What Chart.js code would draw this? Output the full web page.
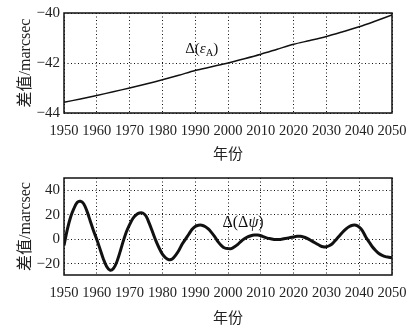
<!DOCTYPE html>
<html>
<head>
<meta charset="utf-8">
<script src="https://cdn.jsdelivr.net/npm/chart.js@4"></script>
<style>
body { margin: 0; background: #fff; width: 417px; height: 329px; overflow: hidden; }
canvas { position: absolute; left: 0; }
</style>
</head>
<body>
<canvas id="top-chart" width="417" height="165" style="top:0"></canvas>
<canvas id="bottom-chart" width="417" height="164" style="top:165px"></canvas>
<script>
// values
var xTicks = [1950, 1960, 1970, 1980, 1990, 2000, 2010, 2020, 2030, 2040, 2050]

var epsYears = [1950, 1955, 1960, 1965, 1970, 1975, 1980, 1985, 1990, 1995, 2000, 2005, 2010, 2015, 2020, 2025, 2030, 2035, 2040, 2045, 2050]
var epsValues = [-43.57, -43.44, -43.3, -43.15, -43.0, -42.84, -42.67, -42.49, -42.3, -42.15, -42.0, -41.83, -41.65, -41.45, -41.25, -41.1, -40.94, -40.75, -40.55, -40.32, -40.08]
var epsTicks = [-44, -42, -40]

var psiYears = [1950, 1951, 1952, 1953, 1954, 1955, 1956, 1957, 1958, 1959,
    1960, 1961, 1962, 1963, 1964, 1965, 1966, 1967, 1968, 1969,
    1970, 1971, 1972, 1973, 1974, 1975, 1976, 1977, 1978, 1979,
    1980, 1981, 1982, 1983, 1984, 1985, 1986, 1987, 1988, 1989,
    1990, 1991, 1992, 1993, 1994, 1995, 1996, 1997, 1998, 1999,
    2000, 2001, 2002, 2003, 2004, 2005, 2006, 2007, 2008, 2009,
    2010, 2011, 2012, 2013, 2014, 2015, 2016, 2017, 2018, 2019,
    2020, 2021, 2022, 2023, 2024, 2025, 2026, 2027, 2028, 2029,
    2030, 2031, 2032, 2033, 2034, 2035, 2036, 2037, 2038, 2039,
    2040, 2041, 2042, 2043, 2044, 2045, 2046, 2047, 2048, 2049, 2050]
var psiValues = [-5, 8, 18, 25, 30, 31, 29, 23, 15, 7,
    0, -8, -16, -22, -25, -24, -19, -11, -2, 6,
    12, 17, 20, 21.5, 21.5, 19, 13, 6, -1, -7,
    -12, -15, -16.5, -16, -13, -9, -4, 0, 4, 8,
    10.5, 11.5, 11.5, 10.5, 8.5, 5.5, 2, -2, -5, -7,
    -7.5, -7.5, -6, -4, -1.5, 0.5, 2, 3, 3.5, 3.5,
    3, 2, 1, 0.5, 0, 0, 0, 0.5, 1, 1.5,
    2, 2.5, 2.5, 2, 1, -0.5, -2, -3.5, -5, -6,
    -6, -5, -3, 0, 3, 6, 8.5, 10.5, 11.5, 11.5,
    10, 7, 2, -2, -6, -9, -11.5, -13, -14, -14.5, -15]
var psiTicks = [-20, 0, 20, 40]

var serif = "'Liberation Serif', 'DejaVu Serif', serif"
var titleFont = "'Liberation Serif', 'Noto Sans CJK SC', serif"

function points(xs, ys) {
    return xs.map((x, i) => ({ x: x, y: ys[i] }))
}

function minus(v) {
    return String(v).replace('-', '\u2212')
}

// box around the plot area and the curve label
var framePlugin = {
    id: 'frame',
    afterDatasetsDraw(chart, args, opts) {
        var a = chart.chartArea
        var c = chart.ctx
        c.save()
        c.strokeStyle = '#111'
        c.lineWidth = 1.5
        c.strokeRect(a.left, a.top, a.right - a.left, a.bottom - a.top)

        var x = chart.scales.x.getPixelForValue(opts.at[0])
        var y = chart.scales.y.getPixelForValue(opts.at[1])
        var size = opts.size
        var w = 0
        opts.parts.forEach(p => {
            c.font = (p.italic ? 'italic ' : '') + (p.sub ? size * 0.7 : size) + 'px ' + serif
            w += c.measureText(p.t).width
        })
        x -= w / 2
        c.fillStyle = '#111'
        c.textBaseline = 'middle'
        opts.parts.forEach(p => {
            c.font = (p.italic ? 'italic ' : '') + (p.sub ? size * 0.7 : size) + 'px ' + serif
            c.fillText(p.t, x, y + (p.sub ? size * 0.25 : 0))
            x += c.measureText(p.t).width
        })
        c.restore()
    }
}

function makeChart(id, xs, ys, yMin, yMax, yTicks, lineWidth, xHeight, padTop, label) {
    var ctx = document.getElementById(id).getContext('2d')
    return new Chart(ctx, {
        type: 'line',
        data: {
            datasets: [{
                data: points(xs, ys),
                borderColor: '#111',
                borderWidth: lineWidth,
                pointRadius: 0,
                tension: 0.3,
                fill: false
            }]
        },
        options: {
            responsive: false,
            animation: false,
            layout: { padding: { top: padTop, right: 25, left: 0, bottom: 0 } },
            plugins: {
                legend: { display: false },
                tooltip: { enabled: false },
                frame: label
            },
            scales: {
                x: {
                    type: 'linear',
                    min: 1950,
                    max: 2050,
                    afterBuildTicks: s => { s.ticks = xTicks.map(v => ({ value: v })) },
                    afterFit: s => { s.height = xHeight },
                    grid: { color: '#111', lineWidth: 1, drawTicks: false },
                    border: { display: false, dash: [1, 2.5] },
                    ticks: {
                        padding: 9,
                        color: '#222',
                        font: { family: serif, size: 14.5 },
                        maxRotation: 0,
                        callback: v => String(v)
                    },
                    title: {
                        display: true,
                        text: '年份',
                        color: '#222',
                        font: { family: titleFont, size: 15 },
                        padding: { top: 0, bottom: 1 }
                    }
                },
                y: {
                    min: yMin,
                    max: yMax,
                    afterBuildTicks: s => { s.ticks = yTicks.map(v => ({ value: v })) },
                    afterFit: s => { s.width = 64 },
                    grid: { color: '#111', lineWidth: 1, drawTicks: false },
                    border: { display: false, dash: [1, 2.5] },
                    ticks: {
                        padding: 4,
                        color: '#222',
                        font: { family: serif, size: 15 },
                        callback: v => minus(v)
                    },
                    title: {
                        display: true,
                        text: '差值/marcsec',
                        color: '#222',
                        font: { family: titleFont, size: 16 },
                        padding: { top: 16, bottom: 0 }
                    }
                }
            }
        },
        plugins: [framePlugin]
    })
}

makeChart('top-chart', epsYears, epsValues, -44, -40, epsTicks, 1.5, 52, 11, {
    at: [1992, -41.45],
    size: 15,
    parts: [{ t: 'Δ(' }, { t: 'ε', italic: true }, { t: 'A', sub: true }, { t: ')' }]
})

makeChart('bottom-chart', psiYears, psiValues, -29, 50, psiTicks, 3, 54, 12, {
    at: [2004.6, 13.6],
    size: 16,
    parts: [{ t: 'Δ(Δ' }, { t: 'ψ', italic: true }, { t: ')' }]
})
</script>
</body>
</html>
